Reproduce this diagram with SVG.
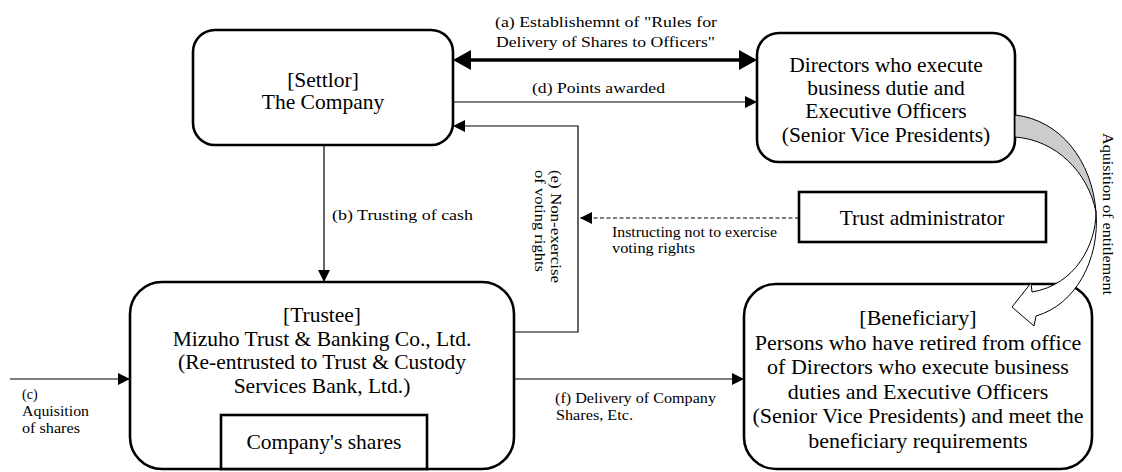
<svg xmlns="http://www.w3.org/2000/svg" width="1122" height="472" viewBox="0 0 1122 472">
<style>
.box{fill:#fff;stroke:#000;stroke-width:2.6}
.n{font-family:"Liberation Serif","Times New Roman",serif;font-size:21.5px;text-anchor:middle;fill:#000}
.l{font-family:"Liberation Serif","Times New Roman",serif;font-size:14px;fill:#000}
.c{fill:none;stroke:#000;stroke-width:1.2}
</style>
<defs>
<marker id="big" viewBox="0 0 18 20" refX="15" refY="10" markerWidth="18" markerHeight="20" markerUnits="userSpaceOnUse" orient="auto-start-reverse"><path d="M0,0 L18,10 L0,20 z" fill="#000"/></marker>
<marker id="sm" viewBox="0 0 12 12" refX="12" refY="6" markerWidth="12" markerHeight="12" markerUnits="userSpaceOnUse" orient="auto"><path d="M0,0 L12,6 L0,12 z" fill="#000"/></marker>
</defs>
<rect width="1122" height="472" fill="#fff"/>
<g id="settlor">
<rect class="box" x="193" y="30" width="260" height="115" rx="22"/>
<text class="n" x="323" y="87">[Settlor]</text>
<text class="n" x="323" y="109">The Company</text>
</g>
<g id="directors">
<rect class="box" x="757" y="33" width="258" height="129" rx="22"/>
<text class="n" x="886" y="72">Directors who execute</text>
<text class="n" x="886" y="95">business dutie and</text>
<text class="n" x="886" y="118">Executive Officers</text>
<text class="n" x="886" y="142">(Senior Vice Presidents)</text>
</g>
<g id="trust-administrator">
<rect class="box" x="799" y="192" width="247" height="50"/>
<text class="n" x="922" y="225">Trust administrator</text>
</g>
<g id="trustee">
<rect class="box" x="130" y="282" width="384" height="187" rx="32"/>
<text class="n" x="322" y="322">[Trustee]</text>
<text class="n" x="322" y="345.5">Mizuho Trust &amp; Banking Co., Ltd.</text>
<text class="n" x="322" y="369">(Re-entrusted to Trust &amp; Custody</text>
<text class="n" x="322" y="392.5">Services Bank, Ltd.)</text>
</g>
<g id="company-shares">
<rect class="box" x="221" y="415" width="206" height="54"/>
<text class="n" x="324" y="449">Company's shares</text>
</g>
<g id="beneficiary">
<rect class="box" x="744" y="284" width="348" height="185" rx="32"/>
<g class="n" style="font-size:22px">
<text x="918" y="325">[Beneficiary]</text>
<text x="918" y="349.5">Persons who have retired from office</text>
<text x="918" y="374">of Directors who execute business</text>
<text x="918" y="398.5">duties and Executive Officers</text>
<text x="918" y="423">(Senior Vice Presidents) and meet the</text>
<text x="918" y="447.5">beneficiary requirements</text>
</g>
</g>
<g id="connectors">
<path d="M456,60 H754" fill="none" stroke="#000" stroke-width="3.3" marker-start="url(#big)" marker-end="url(#big)"/>
<path class="c" d="M453,102 H757" marker-end="url(#sm)"/>
<path class="c" d="M324,145 V282" marker-end="url(#sm)"/>
<path class="c" d="M514,332 H578 V126 H453" marker-end="url(#sm)"/>
<path class="c" d="M10,379 H130" marker-end="url(#sm)"/>
<path class="c" d="M514,379 H744" marker-end="url(#sm)"/>
<path class="c" d="M799,218 H580" stroke-dasharray="4,2.5" marker-end="url(#sm)"/>
<path d="M1015,115 C1060,120 1092,160 1096,212 C1088,172 1056,140 1015,137 Z" fill="#cccccc" stroke="#000" stroke-width="1"/>
<path d="M1096,212 C1096,245 1075,285 1032,292 L1031,283 L1012,307 L1034,326 L1036,316 C1075,305 1100,260 1096,212 Z" fill="#fff" stroke="#000" stroke-width="1"/>
</g>
<g id="labels">
<text class="l" x="495" y="27" textLength="222" lengthAdjust="spacingAndGlyphs">(a) Establishemnt of "Rules for</text>
<text class="l" x="496" y="47" textLength="219" lengthAdjust="spacingAndGlyphs">Delivery of Shares to Officers"</text>
<text class="l" x="532" y="93" textLength="133" lengthAdjust="spacingAndGlyphs">(d) Points awarded</text>
<text class="l" x="332" y="220" textLength="141" lengthAdjust="spacingAndGlyphs">(b) Trusting of cash</text>
<text class="l" x="612" y="237" textLength="165" lengthAdjust="spacingAndGlyphs">Instructing not to exercise</text>
<text class="l" x="612" y="253" textLength="83" lengthAdjust="spacingAndGlyphs">voting rights</text>
<text class="l" transform="translate(551,170) rotate(90)"><tspan x="0" y="0" textLength="113" lengthAdjust="spacingAndGlyphs">(e) Non-exercise</tspan><tspan x="0" y="16" textLength="102" lengthAdjust="spacingAndGlyphs">of voting rights</tspan></text>
<text class="l" x="22" y="399">(c)</text>
<text class="l" x="22" y="416" textLength="67" lengthAdjust="spacingAndGlyphs">Aquisition</text>
<text class="l" x="22" y="433" textLength="58" lengthAdjust="spacingAndGlyphs">of shares</text>
<text class="l" x="555" y="403" textLength="161" lengthAdjust="spacingAndGlyphs">(f) Delivery of Company</text>
<text class="l" x="556" y="420" textLength="77" lengthAdjust="spacingAndGlyphs">Shares, Etc.</text>
<text class="l" transform="translate(1103,133) rotate(90)" textLength="162" lengthAdjust="spacingAndGlyphs">Aquisition of entitlement</text>
</g>
</svg>
